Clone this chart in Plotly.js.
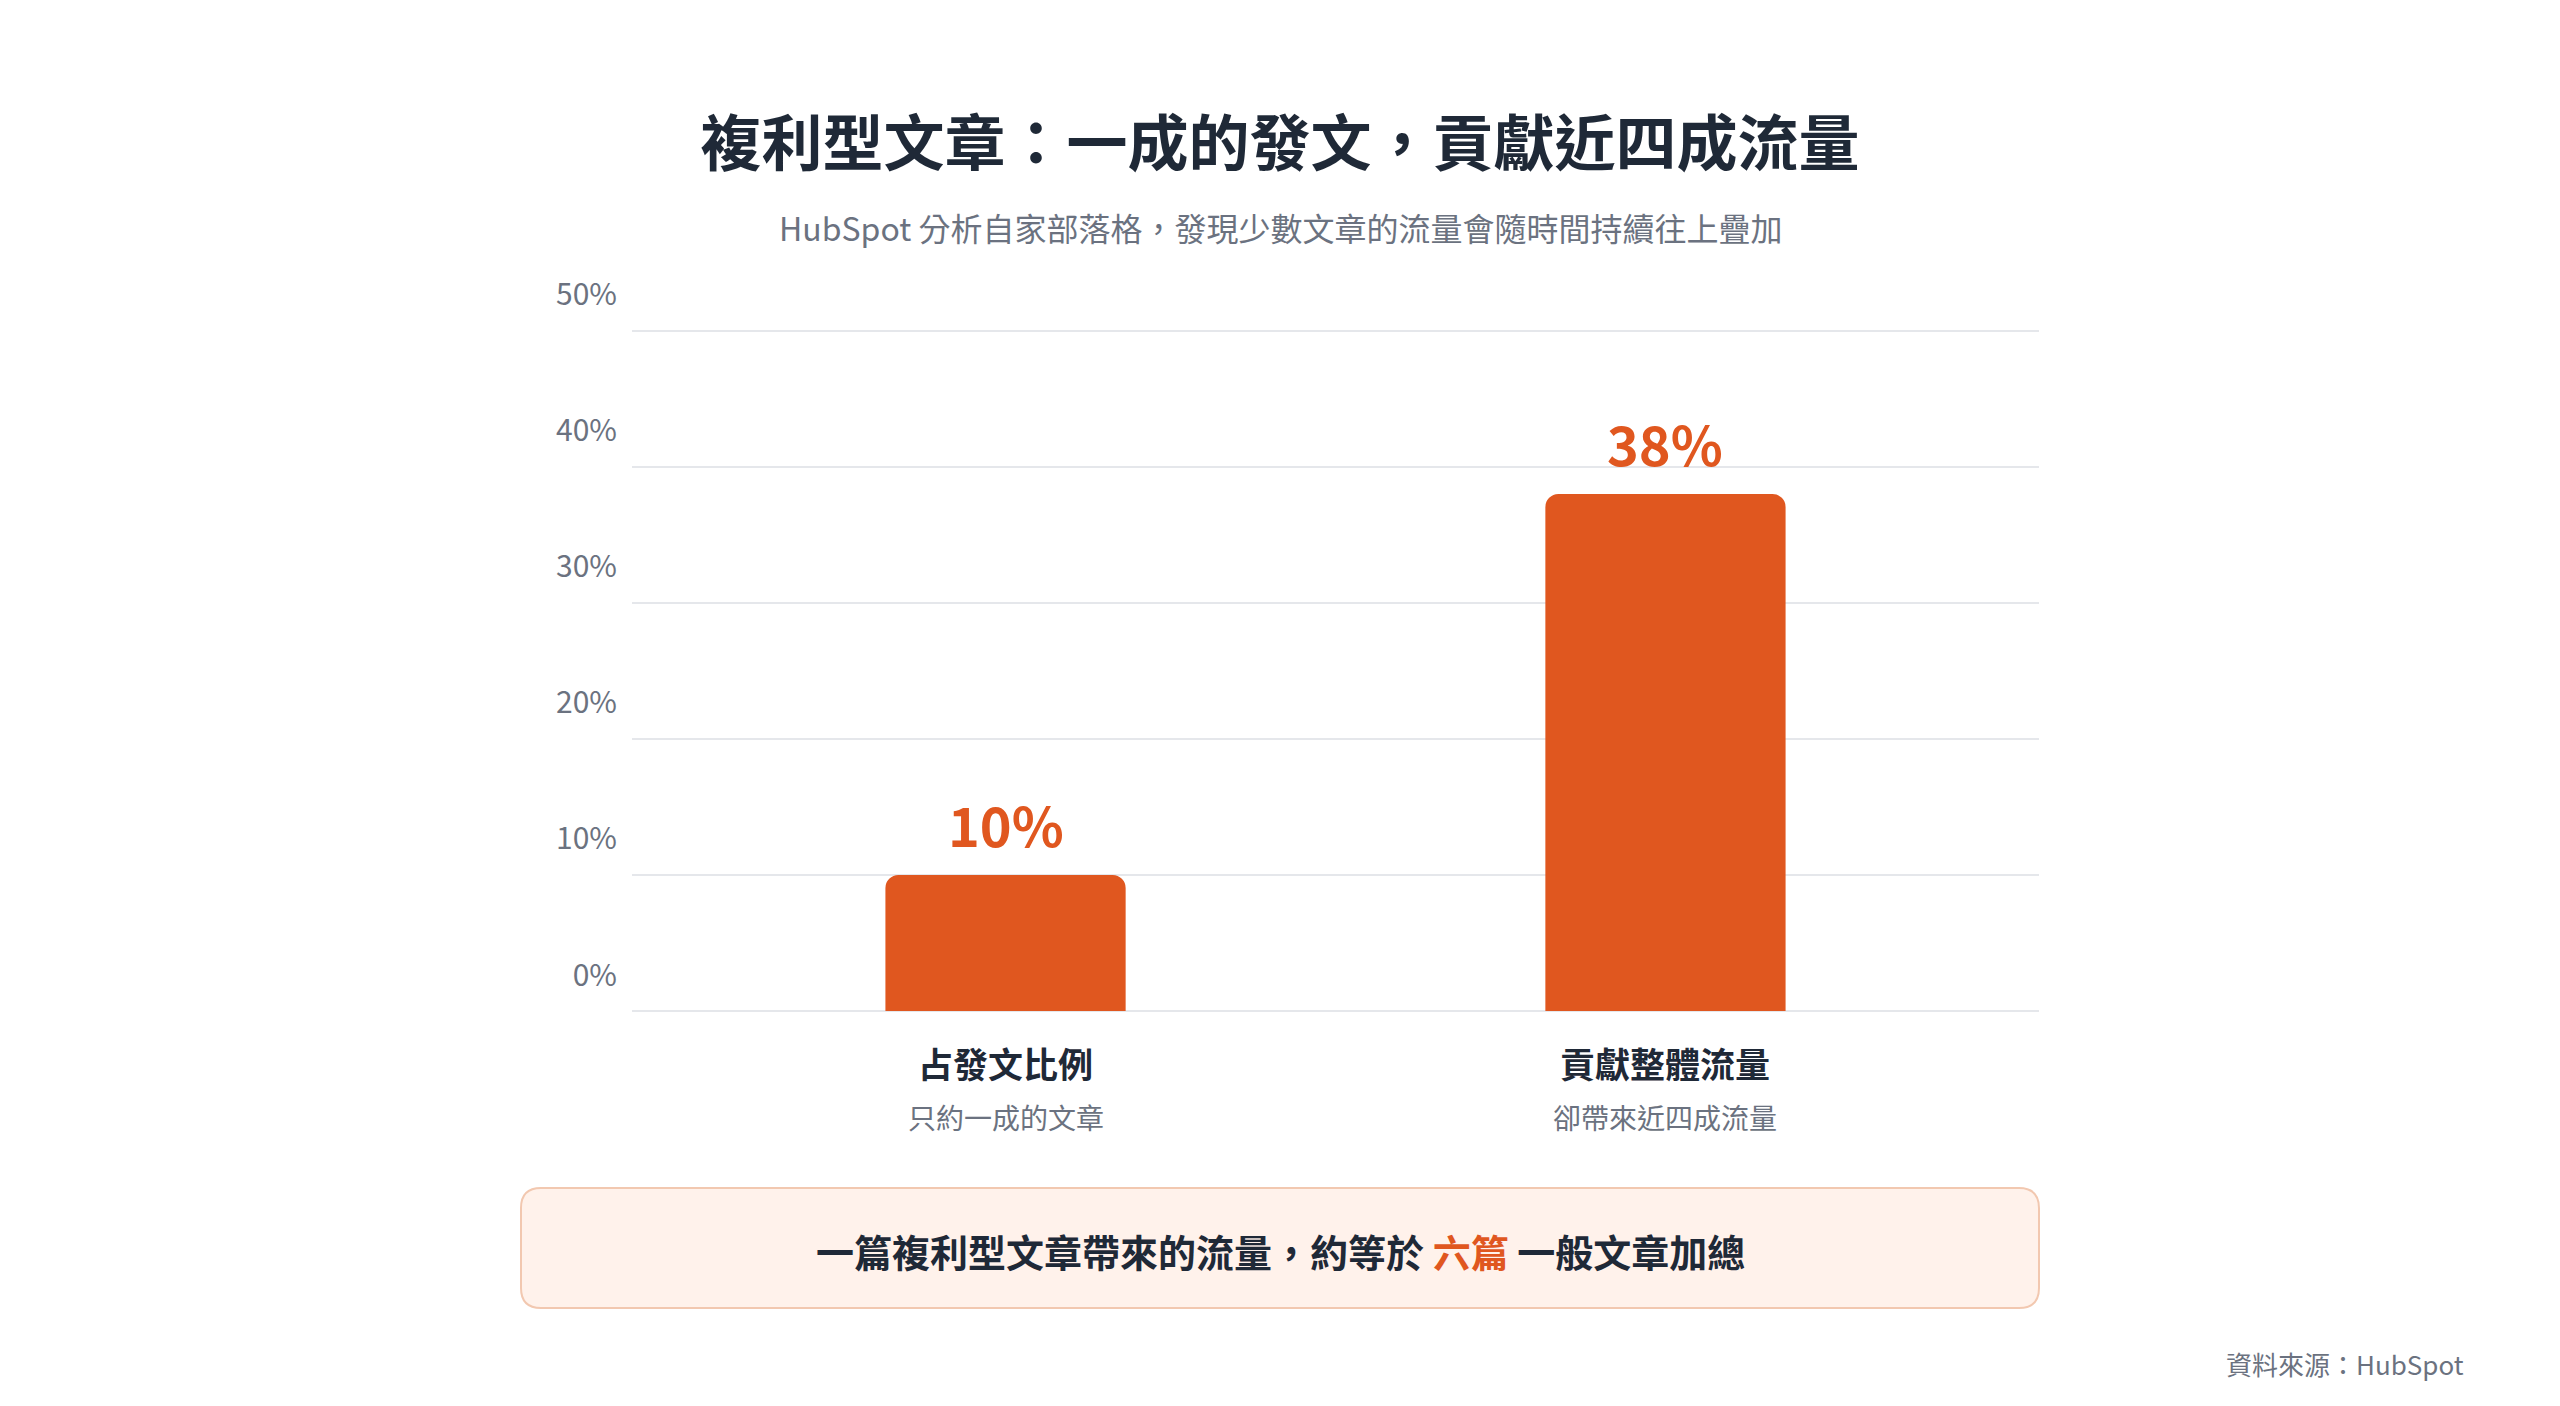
<!DOCTYPE html>
<html>
<head>
<meta charset="utf-8">
<script src="https://cdn.plot.ly/plotly-3.0.1.min.js"></script>
<style>
  html, body { margin: 0; padding: 0; background: #ffffff; }
  #chart { width: 2560px; height: 1406px; }
</style>
</head>
<body>
<div id="chart"></div>
<script>
// ---- data ----
const categories = ['占發文比例', '貢獻整體流量'];
const subLabels = ['只約一成的文章', '卻帶來近四成流量'];
const values = [10, 38];
const yTickValues = [0, 10, 20, 30, 40, 50];
const yTickLabels = ['0%', '10%', '20%', '30%', '40%', '50%'];
const titleText = '複利型文章：一成的發文，貢獻近四成流量';
const subtitleText = 'HubSpot 分析自家部落格，發現少數文章的流量會隨時間持續往上疊加';
const calloutBefore = '一篇複利型文章帶來的流量，約等於 ';
const calloutHighlight = '六篇';
const calloutAfter = ' 一般文章加總';
const sourceText = '資料來源：HubSpot';

// ---- style ----
const FONT = '"Noto Sans CJK TC", "Noto Sans CJK SC", "Noto Sans", sans-serif';
const ORANGE = '#E0571F';
const DARK = '#1f2937';
const GRAY = '#6b7280';

const W = 2560, H = 1406;
const L = 632, R = 2039, B = 1011;
const Y50 = 331;                      // pixel row of the 50% gridline
const YMAX = 50.5;
const T = B - (B - Y50) * YMAX / 50;  // plot top
const px = x => (x - L) / (R - L);
const py = y => (B - y) / (B - T);

const trace = {
  type: 'bar',
  x: categories,
  y: values,
  width: 0.364,
  marker: { color: ORANGE, line: { width: 0 } },
  hoverinfo: 'skip'
};

const annotations = [];
categories.forEach((c, i) => {
  annotations.push({
    x: c, y: values[i], xref: 'x', yref: 'y',
    text: '<b>' + values[i] + '%</b>',
    showarrow: false, xanchor: 'center', yanchor: 'bottom', yshift: 10,
    font: { family: FONT, size: 54, color: ORANGE }
  });
  annotations.push({
    x: c, y: py(1062), xref: 'x', yref: 'paper',
    text: '<b>' + c + '</b>',
    showarrow: false, xanchor: 'center', yanchor: 'middle',
    font: { family: FONT, size: 35, color: DARK }
  });
  annotations.push({
    x: c, y: py(1117), xref: 'x', yref: 'paper',
    text: subLabels[i],
    showarrow: false, xanchor: 'center', yanchor: 'middle',
    font: { family: FONT, size: 28, color: GRAY }
  });
});
annotations.push({
  x: px(1280), y: py(227), xref: 'paper', yref: 'paper',
  text: subtitleText, showarrow: false, xanchor: 'center', yanchor: 'middle',
  font: { family: FONT, size: 32, color: GRAY }
});
annotations.push({
  x: px(1280), y: py(1250), xref: 'paper', yref: 'paper',
  text: '<b>' + calloutBefore + '<span style="color:' + ORANGE + '">' + calloutHighlight + '</span>' + calloutAfter + '</b>',
  showarrow: false, xanchor: 'center', yanchor: 'middle',
  font: { family: FONT, size: 38, color: DARK, weight: 900 }
});
annotations.push({
  x: px(2466), y: py(1363), xref: 'paper', yref: 'paper',
  text: sourceText, showarrow: false, xanchor: 'right', yanchor: 'middle',
  font: { family: FONT, size: 26, color: GRAY }
});

function roundedRect(x0, y0, x1, y1, r) {
  const X = v => px(v), Y = v => py(v);
  return 'M ' + X(x0 + r) + ' ' + Y(y0) +
    ' L ' + X(x1 - r) + ' ' + Y(y0) +
    ' Q ' + X(x1) + ' ' + Y(y0) + ' ' + X(x1) + ' ' + Y(y0 + r) +
    ' L ' + X(x1) + ' ' + Y(y1 - r) +
    ' Q ' + X(x1) + ' ' + Y(y1) + ' ' + X(x1 - r) + ' ' + Y(y1) +
    ' L ' + X(x0 + r) + ' ' + Y(y1) +
    ' Q ' + X(x0) + ' ' + Y(y1) + ' ' + X(x0) + ' ' + Y(y1 - r) +
    ' L ' + X(x0) + ' ' + Y(y0 + r) +
    ' Q ' + X(x0) + ' ' + Y(y0) + ' ' + X(x0 + r) + ' ' + Y(y0) + ' Z';
}

const layout = {
  width: W, height: H,
  paper_bgcolor: '#ffffff', plot_bgcolor: '#ffffff',
  margin: { l: L, r: W - R, t: T, b: H - B, pad: 0 },
  showlegend: false,
  hovermode: false,
  barcornerradius: 13,
  font: { family: FONT, color: DARK },
  title: {
    text: '<b>' + titleText + '</b>',
    x: 0.5, xref: 'container', xanchor: 'center',
    y: 1 - 145 / H, yref: 'container', yanchor: 'middle',
    font: { family: FONT, size: 61, color: DARK, weight: 900 }
  },
  xaxis: {
    type: 'category',
    range: [-0.566, 1.566],
    showticklabels: false,
    showgrid: false, zeroline: false, showline: false, ticks: ''
  },
  yaxis: {
    range: [0, YMAX],
    tickmode: 'array',
    tickvals: yTickValues,
    ticktext: yTickLabels,
    ticks: '',
    showline: false,
    showgrid: true, gridcolor: '#e5e7eb', gridwidth: 2,
    zeroline: true, zerolinecolor: '#e5e7eb', zerolinewidth: 2,
    ticklabelshift: -36,
    ticklabelstandoff: 14,
    tickfont: { family: FONT, size: 30, color: GRAY }
  },
  shapes: [{
    type: 'path', xref: 'paper', yref: 'paper', layer: 'below',
    path: roundedRect(521, 1188, 2039, 1308, 20),
    fillcolor: '#FFF2EB',
    line: { color: '#F2C8B0', width: 2 }
  }],
  annotations: annotations
};

Plotly.newPlot('chart', [trace], layout, { displayModeBar: false, staticPlot: true });
</script>
</body>
</html>
